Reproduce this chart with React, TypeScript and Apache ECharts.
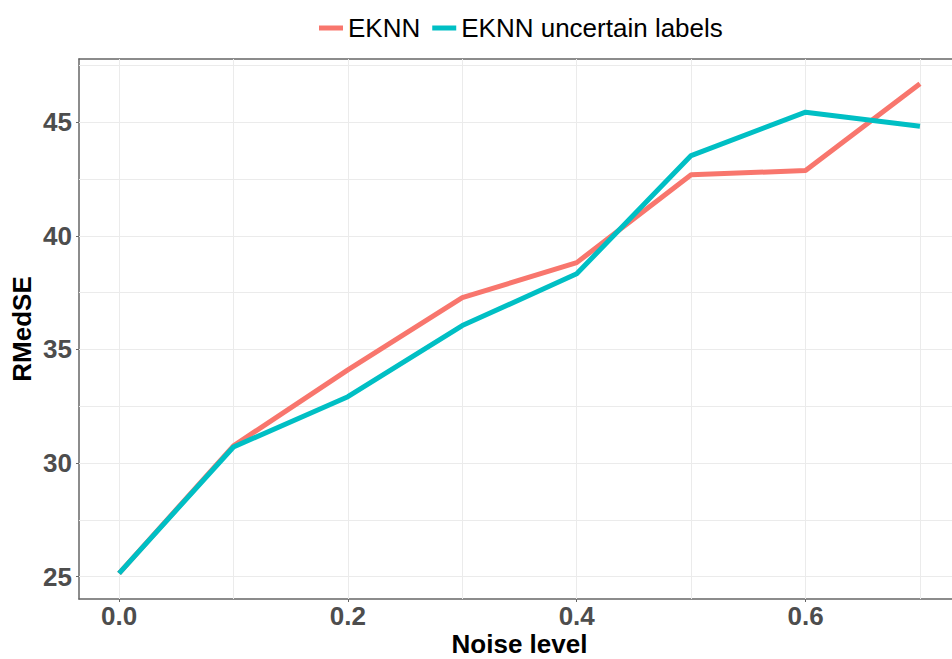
import React, { useEffect, useRef } from "react";
import * as echarts from "echarts";

const noiseLevels = [0.0, 0.1, 0.2, 0.3, 0.4, 0.5, 0.6, 0.7];
const eknn = [25.15, 30.76, 34.1, 37.28, 38.82, 42.69, 42.87, 46.69];
const eknnUncertain = [25.15, 30.71, 32.92, 36.05, 38.33, 43.53, 45.44, 44.82];
const xTickLabels = [0.0, 0.2, 0.4, 0.6];
const yTickLabels = [25, 30, 35, 40, 45];
const xGrid = [0.0, 0.1, 0.2, 0.3, 0.4, 0.5, 0.6, 0.7];
const yGrid = [25, 27.5, 30, 32.5, 35, 37.5, 40, 42.5, 45, 47.5];
const seriesNames = ["EKNN", "EKNN uncertain labels"];
const colors = ["#F8766D", "#00BFC4"];

const FONT = "'Liberation Sans', Arial, sans-serif";

export default function App() {
  const ref = useRef<HTMLDivElement>(null);
  useEffect(() => {
    if (!ref.current) return;
    const chart = echarts.init(ref.current, null, { renderer: "svg" });
    const gridStyle = { color: "#ebebeb", width: 1, type: "solid" as const };
    const markData = [
      ...xGrid.map((v) => ({ xAxis: v })),
      ...yGrid.map((v) => ({ yAxis: v })),
    ];
    chart.setOption({
      animation: false,
      backgroundColor: "#ffffff",
      textStyle: { fontFamily: FONT },
      legend: {
        top: 10,
        left: 314,
        itemWidth: 24,
        itemHeight: 5,
        itemGap: 12,
        icon: "rect",
        textStyle: { fontSize: 26, color: "#000000", fontFamily: FONT },
        data: seriesNames,
      },
      grid: {
        left: 79,
        right: -8,
        top: 59,
        bottom: 60,
        containLabel: false,
        outerBoundsMode: "none",
      },
      xAxis: [
        {
          type: "value",
          min: -0.035,
          max: 0.735,
          name: "Noise level",
          nameLocation: "middle",
          nameGap: 35,
          nameMoveOverlap: false,
          nameTextStyle: {
            fontSize: 26,
            lineHeight: 20,
            fontWeight: "bold",
            color: "#000000",
            fontFamily: FONT,
          },
          axisLine: { show: true, onZero: false, lineStyle: { color: "#666666", width: 1.5 } },
          axisTick: { show: true, length: 3, lineStyle: { color: "#666666" }, customValues: xTickLabels },
          axisLabel: {
            customValues: xTickLabels,
            formatter: (v: number) => v.toFixed(1),
            fontSize: 26,
            lineHeight: 20,
            fontWeight: "bold",
            color: "#4d4d4d",
            margin: 7,
            fontFamily: FONT,
          },
          splitLine: { show: false },
        },
        {
          type: "value",
          position: "top",
          min: -0.035,
          max: 0.735,
          axisLine: { show: true, onZero: false, lineStyle: { color: "#666666", width: 1.5 } },
          axisTick: { show: false },
          axisLabel: { show: false },
          splitLine: { show: false },
        },
      ],
      yAxis: {
        type: "value",
        min: 24.02,
        max: 47.78,
        name: "RMedSE",
        nameLocation: "middle",
        nameGap: 44,
        nameMoveOverlap: false,
        nameTextStyle: { fontSize: 26, fontWeight: "bold", color: "#000000", fontFamily: FONT },
        axisLine: { show: true, onZero: false, lineStyle: { color: "#666666", width: 1.5 } },
        axisTick: { show: true, length: 3, lineStyle: { color: "#666666" }, customValues: yTickLabels },
        axisLabel: {
          customValues: yTickLabels,
          fontSize: 26,
          fontWeight: "bold",
          color: "#4d4d4d",
          margin: 7,
          fontFamily: FONT,
        },
        splitLine: { show: false },
      },
      series: [
        {
          name: seriesNames[0],
          type: "line",
          z: 3,
          data: noiseLevels.map((x, i) => [x, eknn[i]]),
          symbol: "none",
          lineStyle: { color: colors[0], width: 5 },
          itemStyle: { color: colors[0] },
          markLine: {
            silent: true,
            symbol: "none",
            z: 1,
            label: { show: false },
            lineStyle: gridStyle,
            emphasis: { disabled: true },
            data: markData,
          },
        },
        {
          name: seriesNames[1],
          type: "line",
          z: 4,
          data: noiseLevels.map((x, i) => [x, eknnUncertain[i]]),
          symbol: "none",
          lineStyle: { color: colors[1], width: 5 },
          itemStyle: { color: colors[1] },
        },
      ],
    });
    return () => chart.dispose();
  }, []);
  return (
    <div
      ref={ref}
      style={{ position: "absolute", left: 0, top: 0, width: 952, height: 659 }}
    />
  );
}
